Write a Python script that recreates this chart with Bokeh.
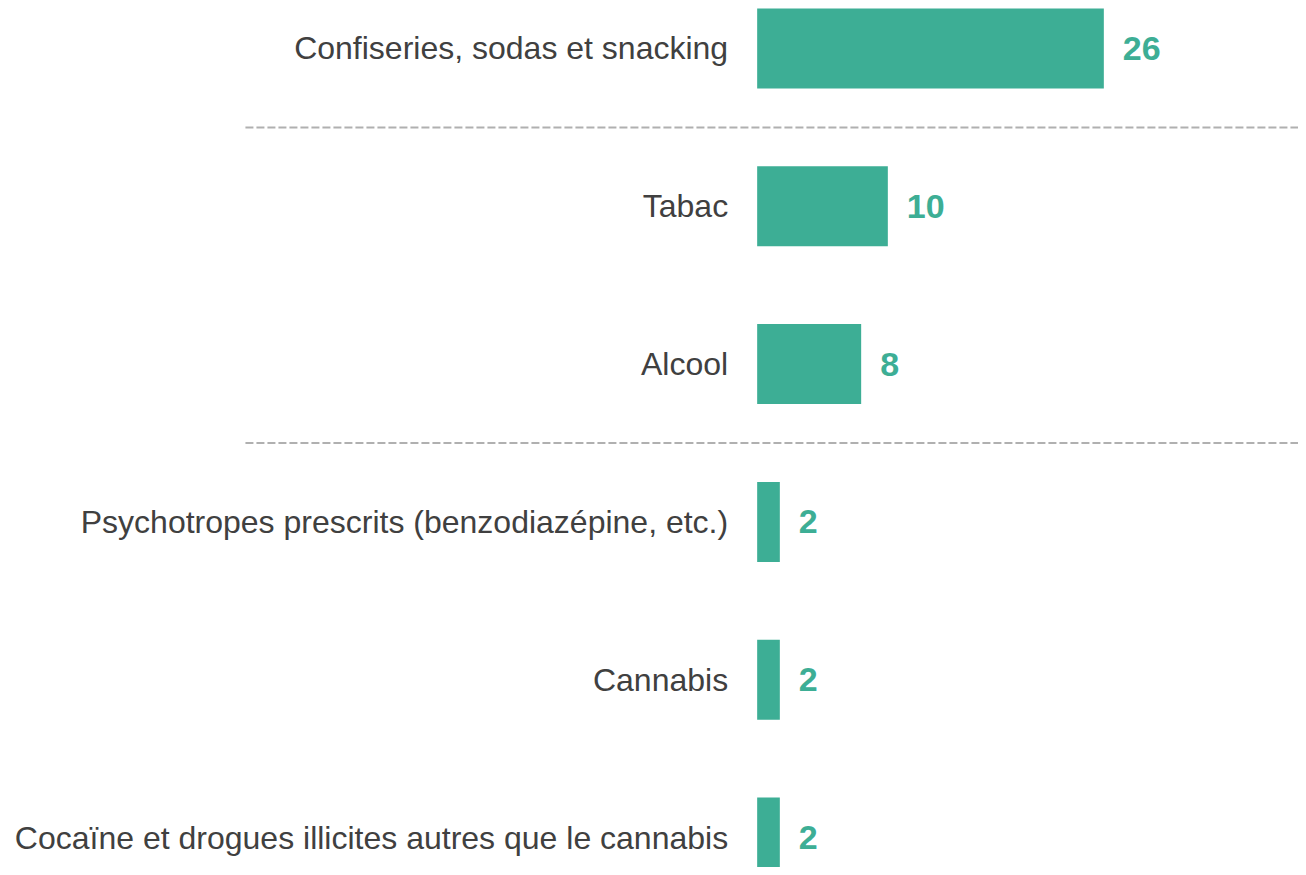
from bokeh.plotting import figure
from bokeh.models import Range1d, ColumnDataSource
from bokeh.core.properties import value
from bokeh.embed import file_html
from bokeh.resources import INLINE

# ---- data ----
categories = [
    "Confiseries, sodas et snacking",
    "Tabac",
    "Alcool",
    "Psychotropes prescrits (benzodiazépine, etc.)",
    "Cannabis",
    "Cocaïne et drogues illicites autres que le cannabis",
]
values = [26.0, 9.8, 7.8, 1.7, 1.7, 1.7]
value_labels = [f"{v:.0f}" for v in values]
separators_after = [0, 2]  # group boundaries (row index after which a dashed line is drawn)

BAR_COLOR = "#3DAE95"
TEXT_COLOR = "#404040"
FONT = "Liberation Sans"

X_START, X_END = -56.75, 40.6

rows = list(range(len(categories)))
src = ColumnDataSource(dict(y=rows, v=values, cat=categories, lab=value_labels))

p = figure(
    width=1298, height=867,
    x_range=Range1d(X_START, X_END),
    y_range=Range1d(5.190, -0.304),
    toolbar_location=None, output_backend="svg",
    x_axis_location=None, y_axis_location=None,
    min_border=0, outline_line_color=None,
)
p.xgrid.visible = False
p.ygrid.visible = False
p.background_fill_color = "white"
p.border_fill_color = "white"

# dashed separators between groups
sep_y = [i + 0.5 for i in separators_after]
p.segment(x0=[-38.38] * len(sep_y), x1=[X_END] * len(sep_y), y0=sep_y, y1=sep_y,
          line_color="#b0b0b0", line_width=2, line_dash="8 3")

p.hbar(y="y", left=0, right="v", height=0.507, source=src,
       fill_color=BAR_COLOR, line_color=None)

p.text(x=0, y="y", text="cat", source=src, x_offset=-29,
       text_align="right", text_baseline="middle",
       text_font=value(FONT), text_font_size="32px", text_color=TEXT_COLOR)

p.text(x="v", y="y", text="lab", source=src, x_offset=19,
       text_align="left", text_baseline="middle",
       text_font=value(FONT), text_font_size="34px", text_font_style="bold",
       text_color=BAR_COLOR)

open("out.html", "w").write(file_html(p, INLINE))
